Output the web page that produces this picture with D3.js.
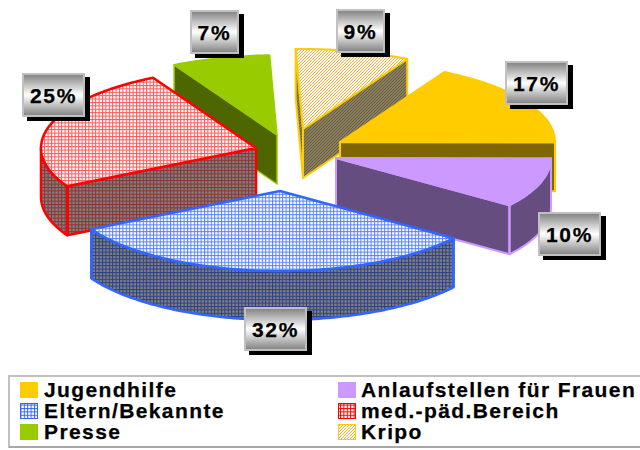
<!DOCTYPE html>
<html><head><meta charset="utf-8">
<style>html,body{margin:0;padding:0;background:#fff;overflow:hidden}svg{display:block}text{font-family:"Liberation Sans",Arial,sans-serif;font-weight:bold;fill:#000;stroke:#000;stroke-width:.25}</style>
<script src="https://cdn.jsdelivr.net/npm/d3@7/dist/d3.min.js"></script>
</head><body><svg id="c" width="640" height="450"></svg>
<script>
const categories = ["Jugendhilfe","Anlaufstellen für Frauen","Eltern/Bekannte","med.-päd.Bereich","Presse","Kripo"];
const percents = [17,10,32,25,7.4,8.6];
const tickLabels = ["17%","10%","32%","25%","7%","9%"];

// layout & style, kept apart from the data
const rx = 215, ry = 80, depth = 49;
const firstAngle = 29 * Math.PI / 180;
const explodedApex = [[340,142],[336,158],[280,191],[256,148],[277,135],[303,129]];
const labelBox = [[505,61],[538,212],[244,307],[22,73],[190,10],[336,9]];
const paintOrder = [5,4,3,0,1,2];
const styles = [
 {stroke:"#ffcc00",top:"#ffcc00",wall:"#806600",sw:2},
 {stroke:"#cc99ff",top:"#cc99ff",wall:"#664d80",sw:2},
 {stroke:"#3366ff",top:"url(#pBlue)",wall:"url(#pBlueW)",sw:2.5},
 {stroke:"#ff0000",top:"url(#pRed)",wall:"url(#pRedW)",sw:2.5},
 {stroke:"#99cc00",top:"#99cc00",wall:"#4d6600",sw:1.5},
 {stroke:"#ffcc00",top:"url(#pKri)",wall:"url(#pKriW)",sw:2}
];
const legendRows = [0,0,1,1,2,2];

const svg = d3.select("#c");
const defs = svg.append("defs");
function grid(id,bg,line,s){
  const p = defs.append("pattern").attr("id",id).attr("patternUnits","userSpaceOnUse").attr("width",s).attr("height",s);
  p.append("rect").attr("width",s).attr("height",s).attr("fill",bg);
  p.append("rect").attr("width",s).attr("height",1).attr("fill",line);
  p.append("rect").attr("width",1).attr("height",s).attr("fill",line);
}
grid("pBlue","#ffffff","#5580ff",3.4);
grid("pRed","#ffffff","#ff5555",3.4);
grid("pBlueW","#808080","#2a3f85",3.4);
grid("pRedW","#808080","#8f3030",3.4);
grid("pBlueL","#ffffff","#3366ff",3.4);
grid("pRedL","#ffffff","#ff0000",3.4);
function hatch(id,bg,line){
  const p = defs.append("pattern").attr("id",id).attr("patternUnits","userSpaceOnUse").attr("width",3).attr("height",3);
  p.append("rect").attr("width",3).attr("height",3).attr("fill",bg);
  p.append("path").attr("d","M0 3L3 0M-1 1L1 -1M2 4L4 2").attr("stroke",line).attr("stroke-width",1);
}
hatch("pKri","#ffffff","#ffaa33");
hatch("pKriW","#7d7d7d","#806000");
const gr = defs.append("linearGradient").attr("id","lab").attr("x1",0).attr("y1",0).attr("x2",0).attr("y2",1);
[[0,"#808080"],[0.5,"#ffffff"],[1,"#808080"]].forEach(s=>gr.append("stop").attr("offset",s[0]).attr("stop-color",s[1]));

const pie = d3.pie().value(d=>d).sort(null).startAngle(firstAngle).endAngle(firstAngle+2*Math.PI);
const arcs = pie(percents);
const sx = d3.scaleLinear().domain([-1,1]).range([-rx,rx]);
const sy = d3.scaleLinear().domain([-1,1]).range([-ry,ry]);
const line = d3.line();
const pt = (i,a,dz=0)=>[explodedApex[i][0]+sx(Math.sin(a)), explodedApex[i][1]-sy(Math.cos(a))+dz];
const arcPts = (i,a,b,dz=0)=>{
  const n = Math.max(2,Math.ceil((b-a)/0.02)), r=[];
  for(let k=0;k<=n;k++) r.push(pt(i,a+(b-a)*k/n,dz));
  return r;
};
const g = svg.append("g").attr("stroke-linejoin","round");
paintOrder.forEach(i=>{
  const A = arcs[i], st = styles[i], a=A.startAngle, b=A.endAngle;
  const apex = explodedApex[i], apexL=[apex[0],apex[1]+depth];
  const draw = (pts,fill)=>g.append("path").attr("d",line(pts)+"Z").attr("fill",fill).attr("stroke",st.stroke).attr("stroke-width",st.sw);
  if(Math.sin(a)<0){ const p=pt(i,a); draw([apex,p,[p[0],p[1]+depth],apexL],st.wall); }
  if(Math.sin(b)>0){ const p=pt(i,b); draw([apex,p,[p[0],p[1]+depth],apexL],st.wall); }
  const lo=Math.max(a,Math.PI/2), hi=Math.min(b,1.5*Math.PI);
  if(hi>lo){
    const pts=arcPts(i,lo,hi).concat(arcPts(i,lo,hi,depth).reverse());
    draw(pts,st.wall);
    if(lo>Math.PI/2){const p=pt(i,lo);g.append("path").attr("d",line([p,[p[0],p[1]+depth]])).attr("stroke",st.stroke).attr("stroke-width",st.sw);}
    if(hi<1.5*Math.PI){const p=pt(i,hi);g.append("path").attr("d",line([p,[p[0],p[1]+depth]])).attr("stroke",st.stroke).attr("stroke-width",st.sw);}
  }
  draw([apex].concat(arcPts(i,a,b)),st.top);
});

// value labels
tickLabels.forEach((t,i)=>{
  const [x,y]=labelBox[i], w=t.length===3?63:49, h=44;
  svg.append("rect").attr("x",x+5).attr("y",y+4).attr("width",w).attr("height",h).attr("fill","#000");
  svg.append("rect").attr("x",x+1).attr("y",y+1).attr("width",w-2).attr("height",h-2).attr("fill","url(#lab)").attr("stroke","#c0c0c0").attr("stroke-width",2);
  svg.append("text").attr("x",x+w/2).attr("y",y+30).attr("text-anchor","middle").attr("font-size",21).attr("letter-spacing",1.7).text(t);
});

// legend
svg.append("rect").attr("x",9).attr("y",376).attr("width",650).attr("height",71).attr("fill","#fff").attr("stroke","#c0c0c0").attr("stroke-width",2);
svg.append("rect").attr("x",9).attr("y",446).attr("width",650).attr("height",2).attr("fill","#a8a8a8");
const lx=[20,338], ly=[382,403,424], swatch=[ "#ffcc00","#cc99ff","url(#pBlueL)","url(#pRedL)","#99cc00","url(#pKri)"];
categories.forEach((c,i)=>{
  const x=lx[i%2], y=ly[legendRows[i]];
  svg.append("rect").attr("x",x+.5).attr("y",y+.5).attr("width",17).attr("height",15).attr("fill",swatch[i]).attr("stroke",styles[i].stroke);
  svg.append("text").attr("x",x+(i%2?23:24)).attr("y",y+15).attr("font-size",21).attr("letter-spacing",1.4).text(c);
});
</script></body></html>
